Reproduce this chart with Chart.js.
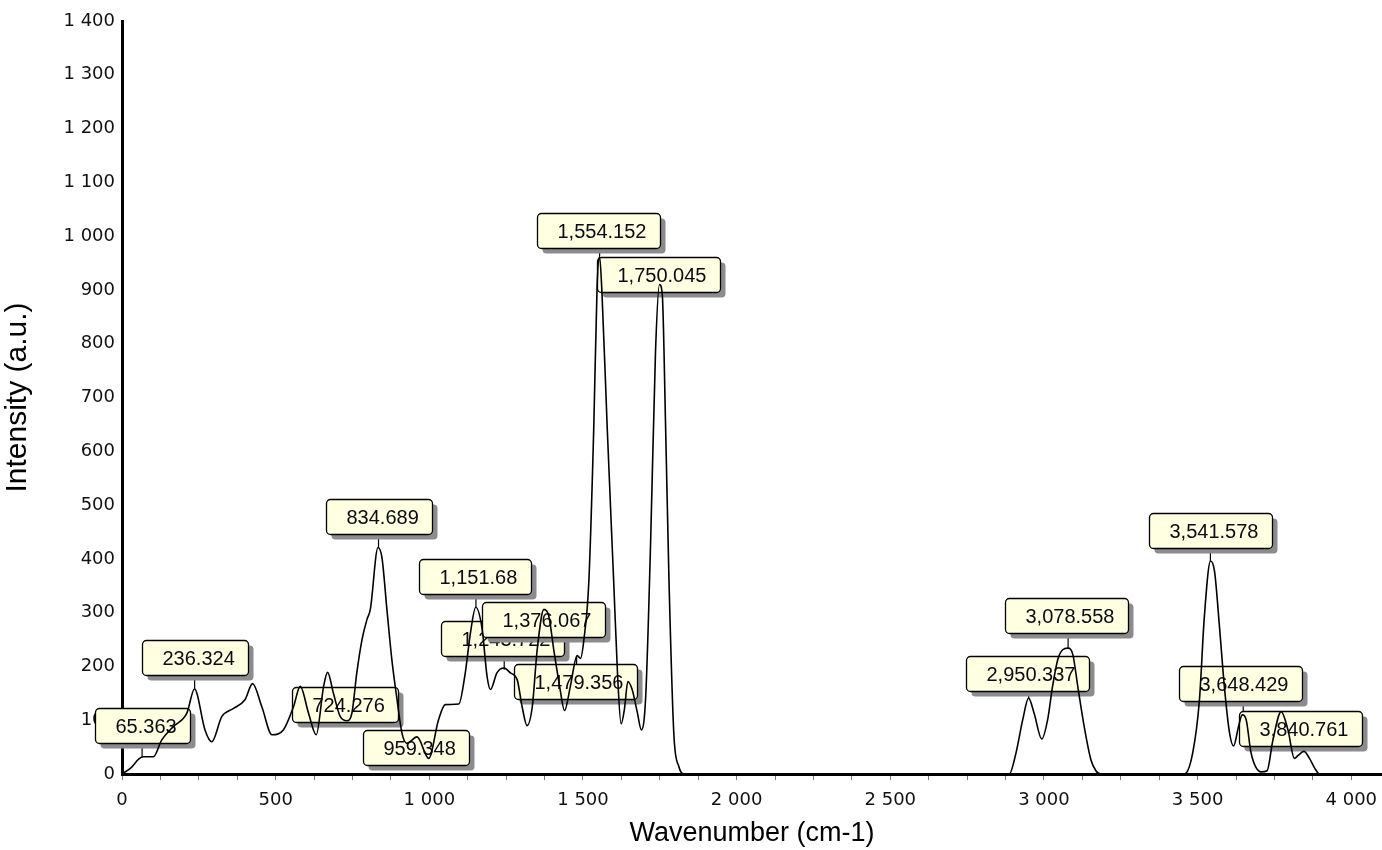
<!DOCTYPE html>
<html>
<head>
<meta charset="utf-8">
<script src="https://cdn.jsdelivr.net/npm/chart.js@4.4.1/dist/chart.umd.min.js"></script>
<style>
  body { margin: 0; background: #fff; }
  #wrap { width: 1382px; height: 850px; position: relative; }
</style>
</head>
<body>
<div id="wrap"><canvas id="spectrum"></canvas></div>
<script>
// spectrum
var wavenumber = [0, 30, 55, 69, 102, 129, 167, 211, 236, 270, 292, 325, 363, 400, 425, 455, 488, 525, 558, 580,
  607, 632, 656, 669, 688, 710, 732, 748, 764, 781, 797, 808, 833, 846, 862, 878, 895, 911, 927, 960,
  998, 1030, 1052, 1096, 1117, 1134, 1151, 1172, 1188, 1199, 1220, 1243, 1264, 1286, 1302, 1318, 1335, 1351, 1373, 1389,
  1405, 1424, 1440, 1459, 1481, 1492, 1503, 1519, 1535, 1546, 1554, 1562, 1579, 1600, 1613, 1624, 1635, 1646, 1660, 1677,
  1690, 1704, 1720, 1736, 1749, 1758, 1769, 1780, 1796, 1812, 1828, 2200, 2600, 2887, 2909, 2931, 2950, 2968, 2993, 3012,
  3028, 3045, 3061, 3078, 3094, 3110, 3131, 3153, 3169, 3185, 3457, 3484, 3506, 3522, 3542, 3555, 3571, 3587, 3604, 3617,
  3633, 3645, 3658, 3674, 3707, 3726, 3745, 3772, 3794, 3815, 3826, 3846, 3864, 3881, 3897, 4100];
var intensity = [0, 12, 28, 32, 32, 63, 88, 113, 158, 82, 60, 107, 122, 138, 168, 125, 73, 82, 125, 163,
  113, 73, 163, 189, 150, 107, 99, 113, 188, 250, 287, 306, 421, 402, 306, 213, 138, 76, 57, 69,
  29, 101, 129, 130, 188, 263, 310, 269, 181, 157, 188, 197, 188, 175, 125, 90, 125, 231, 306, 293,
  231, 163, 118, 163, 220, 215, 250, 357, 642, 907, 962, 892, 642, 357, 179, 93, 121, 172, 157, 114,
  82, 143, 429, 785, 910, 892, 642, 357, 71, 14, 0, 0, 0, 0, 39, 101, 141, 113, 65, 101,
  163, 213, 231, 234, 222, 163, 88, 26, 6, 0, 0, 39, 138, 293, 396, 377, 275, 163, 76, 52,
  88, 110, 101, 39, 4, 6, 63, 116, 82, 29, 34, 42, 29, 11, 0, 0];

// marked peaks and where their callouts sit (data units)
var peakWn = [65.363, 236.324, 724.276, 834.689, 959.348, 1151.68, 1243.722, 1376.067,
  1479.356, 1554.152, 1750.045, 2950.337, 3078.558, 3541.578, 3648.429, 3840.761];
var peakInt = [32, 158, 99, 421, 69, 309, 194, 306, 219, 962, 910, 141, 234, 396, 110, 42];
var calloutWn = [67, 237, 727, 836, 958, 1148, 1239, 1371, 1476, 1551, 1746, 2946, 3073, 3541, 3641, 3836];
var calloutInt = [89.5, 216, 130, 478, 49, 367, 252, 287, 172, 1010, 928, 186, 294, 453, 168, 85];

var xMax = 4100;
var yMax = 1400;

function spaced(v) {
  return String(v).replace(/\B(?=(\d{3})+(?!\d))/g, ' ');
}

function peakText(v) {
  return v.toLocaleString('en-US', {maximumFractionDigits: 3});
}

var points = [];
for (var i = 0; i < wavenumber.length; i++) {
  points.push({x: wavenumber[i], y: intensity[i]});
}

var callouts = {
  id: 'callouts',
  beforeDatasetsDraw: function(chart) {
    var ctx = chart.ctx;
    var xs = chart.scales.x, ys = chart.scales.y;
    ctx.save();
    ctx.font = '20px "Liberation Sans", Arial, sans-serif';
    ctx.textBaseline = 'middle';
    for (var i = 0; i < peakWn.length; i++) {
      var txt = peakText(peakWn[i]);
      var px = xs.getPixelForValue(peakWn[i]);
      var py = ys.getPixelForValue(peakInt[i]);
      var cx = xs.getPixelForValue(calloutWn[i]);
      var cy = ys.getPixelForValue(calloutInt[i]);
      var w = Math.round(ctx.measureText(txt).width + 34);
      var h = 35;
      var x0 = Math.round(cx - w / 2) + 0.5, y0 = Math.round(cy - h / 2) + 0.5;

      // leader from the box to the peak
      ctx.strokeStyle = '#000';
      ctx.lineWidth = 1.2;
      ctx.beginPath();
      if (py > y0 + h) { ctx.moveTo(px, y0 + h); ctx.lineTo(px, py); }
      else if (py < y0) { ctx.moveTo(px, y0); ctx.lineTo(px, py); }
      ctx.stroke();

      // shadow
      ctx.fillStyle = '#8c8c8c';
      ctx.beginPath();
      ctx.roundRect(x0 + 5, y0 + 5, w, h, 4);
      ctx.fill();

      ctx.fillStyle = '#ffffe1';
      ctx.strokeStyle = '#000';
      ctx.lineWidth = 1.3;
      ctx.beginPath();
      ctx.roundRect(x0, y0, w, h, 4);
      ctx.fill();
      ctx.stroke();

      ctx.fillStyle = '#0a0a14';
      ctx.textAlign = 'left';
      ctx.fillText(txt, x0 + 20, y0 + h / 2 + 1);
    }
    ctx.restore();
  }
};

var ctx = document.getElementById('spectrum');
var myChart = new Chart(ctx, {
  type: 'line',
  data: {
    datasets: [{
      data: points,
      borderColor: '#000',
      borderWidth: 1.6,
      pointRadius: 0,
      fill: false,
      cubicInterpolationMode: 'monotone'
    }]
  },
  options: {
    responsive: true,
    maintainAspectRatio: false,
    animation: false,
    layout: { padding: { left: 0, top: 21, right: 0, bottom: 0 } },
    plugins: { legend: { display: false }, tooltip: { enabled: false } },
    scales: {
      x: {
        type: 'linear',
        min: 0,
        max: xMax,
        afterFit: function(scale) {
          scale.height = 76;
          scale.paddingLeft = 0;
          scale.paddingRight = 0;
        },
        border: { display: true, color: '#000', width: 3 },
        grid: { drawOnChartArea: false, drawTicks: true, tickLength: 6, color: '#7a7a7a', lineWidth: 1 },
        ticks: {
          stepSize: 125,
          includeBounds: false,
          autoSkip: false,
          maxRotation: 0,
          padding: 10,
          color: '#111',
          font: { family: '"DejaVu Sans", Verdana, sans-serif', size: 18 },
          callback: function(v) { return v % 500 === 0 ? spaced(v) : ''; }
        },
        title: {
          display: true,
          text: 'Wavenumber (cm-1)',
          color: '#000',
          font: { family: '"Liberation Sans", Arial, sans-serif', size: 27 },
          padding: { top: 0, bottom: 0 }
        }
      },
      y: {
        min: 0,
        max: yMax,
        afterFit: function(scale) { scale.width = 122; },
        border: { display: true, color: '#000', width: 3 },
        grid: { drawOnChartArea: false, drawTicks: false },
        ticks: {
          stepSize: 100,
          padding: 7,
          color: '#111',
          font: { family: '"DejaVu Sans", Verdana, sans-serif', size: 18 },
          callback: function(v) { return spaced(v); }
        },
        title: {
          display: true,
          text: 'Intensity (a.u.)',
          color: '#000',
          font: { family: '"Liberation Sans", Arial, sans-serif', size: 30 },
          padding: { top: 0, bottom: 0 }
        }
      }
    }
  },
  plugins: [callouts]
});
</script>
</body>
</html>
